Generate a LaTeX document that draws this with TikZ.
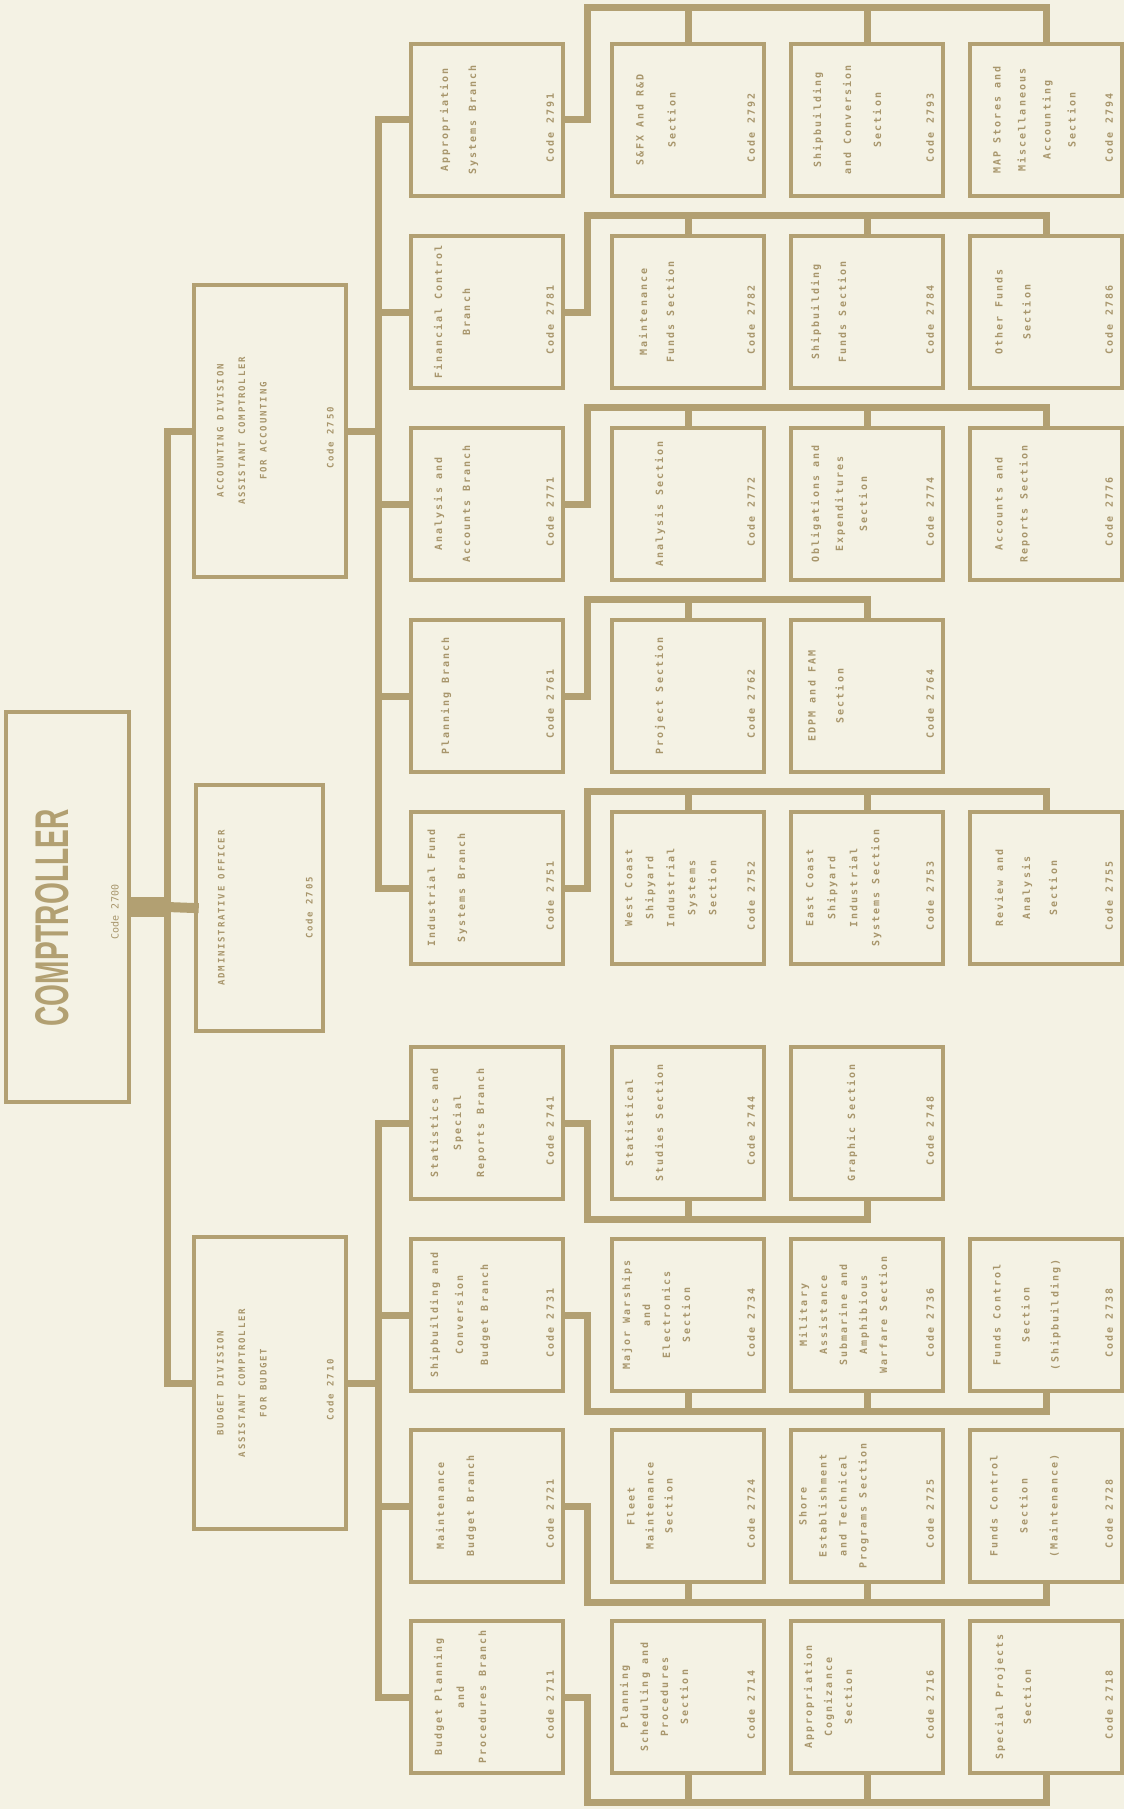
\documentclass[tikz,border=0pt]{standalone}
\usepackage{fontspec}
\usepackage{graphicx}
\usepackage{tikz}
\usetikzlibrary{calc}
\newfontfamily\typefont[LetterSpace=20]{DejaVu Sans Mono}
\newfontfamily\plainfont{DejaVu Sans Mono}
\newfontfamily\headfont{Liberation Sans}

\definecolor{paper}{RGB}{244,242,228}
\definecolor{rule}{RGB}{178,160,114}
\definecolor{ink}{RGB}{168,150,108}

\tikzset{
    unit/.style={draw=rule, line width=4.5pt, fill=paper, inner sep=0pt},
    link/.style={draw=rule, line width=7pt, line cap=rect},
    title/.style={rotate=90, anchor=north, inner sep=0pt, align=center, text=ink},
    code/.style={rotate=90, inner sep=0pt, text=ink},
}

% box: name, x, y, first line offset, line spacing, title, code
\newcommand{\orgunit}[7]{%
    \node[unit, minimum width=152pt, minimum height=152pt] (#1) at (#2,#3) {};
    \node[title, font=\typefont\bfseries\fontsize{10}{#5}\selectfont] (#1t) at ($(#1.west)+(#4-4,0)$) {#6};
    \node[code, font=\typefont\bfseries\fontsize{10}{12}\selectfont] (#1c) at ($(#1.east)+(-15,8)$) {Code #7};
}

\begin{document}
\begin{tikzpicture}[x=1pt,y=-1pt]
        %Paper
            \fill[paper] (0,0) rectangle (1124,1809);
            \useasboundingbox (0,0) rectangle (1124,1809);
        %Comptroller
            \node[unit, minimum width=123pt, minimum height=390pt] (comp) at (67.5,907) {};
            \node[rotate=90, inner sep=0pt, text=rule] (compt) at (52,918) {\resizebox{217pt}{33pt}{\headfont\bfseries COMPTROLLER}};
            \node[code, font=\plainfont\fontsize{10}{12}\selectfont] (compc) at (115,912) {Code 2700};
        %Divisions
            \node[unit, minimum width=152pt, minimum height=292pt] (acct) at (270,431) {};
            \node[title, font=\typefont\bfseries\fontsize{9}{21.5}\selectfont] (acctt) at ($(acct.west)+(25,0)$) {ACCOUNTING DIVISION\\ASSISTANT COMPTROLLER\\FOR ACCOUNTING};
            \node[code, font=\typefont\bfseries\fontsize{9}{10}\selectfont] (acctc) at ($(acct.east)+(-18,7)$) {Code 2750};
            \node[unit, minimum width=127pt, minimum height=246pt] (admin) at (259.5,908) {};
            \node[title, font=\typefont\bfseries\fontsize{9}{21.5}\selectfont] (admint) at ($(admin.west)+(24,0)$) {ADMINISTRATIVE OFFICER};
            \node[code, font=\typefont\bfseries\fontsize{9}{10}\selectfont] (adminc) at ($(admin.east)+(-16,0)$) {Code 2705};
            \node[unit, minimum width=152pt, minimum height=292pt] (budg) at (270,1383) {};
            \node[title, font=\typefont\bfseries\fontsize{9}{21.5}\selectfont] (budgt) at ($(budg.west)+(25,0)$) {BUDGET DIVISION\\ASSISTANT COMPTROLLER\\FOR BUDGET};
            \node[code, font=\typefont\bfseries\fontsize{9}{10}\selectfont] (budgc) at ($(budg.east)+(-18,7)$) {Code 2710};
        %Accounting rows
            \orgunit{b1}{487}{120}{35}{28}{Appropriation\\Systems Branch}{2791}
            \orgunit{s11}{688}{120}{30}{32}{S\&FX And R\&D\\Section}{2792}
            \orgunit{s12}{867}{120}{28}{30}{Shipbuilding\\and Conversion\\Section}{2793}
            \orgunit{s13}{1046}{120}{29}{25}{MAP Stores and\\Miscellaneous\\Accounting\\Section}{2794}
            \orgunit{b2}{487}{312}{29}{28}{Financial Control\\Branch}{2781}
            \orgunit{s21}{688}{312}{33}{27}{Maintenance\\Funds Section}{2782}
            \orgunit{s22}{867}{312}{26}{27}{Shipbuilding\\Funds Section}{2784}
            \orgunit{s23}{1046}{312}{31}{28}{Other Funds\\Section}{2786}
            \orgunit{b3}{487}{504}{29}{28}{Analysis and\\Accounts Branch}{2771}
            \orgunit{s31}{688}{504}{49}{28}{Analysis Section}{2772}
            \orgunit{s32}{867}{504}{26}{24}{Obligations and\\Expenditures\\Section}{2774}
            \orgunit{s33}{1046}{504}{31}{25}{Accounts and\\Reports Section}{2776}
            \orgunit{b4}{487}{696}{36}{28}{Planning Branch}{2761}
            \orgunit{s41}{688}{696}{49}{28}{Project Section}{2762}
            \orgunit{s42}{867}{696}{23}{28}{EDPM and FAM\\Section}{2764}
            \orgunit{b5}{487}{888}{22}{30}{Industrial Fund\\Systems Branch}{2751}
            \orgunit{s51}{688}{888}{19}{21}{West Coast\\Shipyard\\Industrial\\Systems\\Section}{2752}
            \orgunit{s52}{867}{888}{21}{22}{East Coast\\Shipyard\\Industrial\\Systems Section}{2753}
            \orgunit{s53}{1046}{888}{31}{27}{Review and\\Analysis\\Section}{2755}
        %Budget rows
            \orgunit{b6}{487}{1123}{25}{23}{Statistics and\\Special\\Reports Branch}{2741}
            \orgunit{s61}{688}{1123}{19}{30}{Statistical\\Studies Section}{2744}
            \orgunit{s62}{867}{1123}{62}{28}{Graphic Section}{2748}
            \orgunit{b7}{487}{1315}{25}{25}{Shipbuilding and\\Conversion\\Budget Branch}{2731}
            \orgunit{s71}{688}{1315}{16}{20}{Major Warships\\and\\Electronics\\Section}{2734}
            \orgunit{s72}{867}{1315}{14}{20}{Military\\Assistance\\Submarine and\\Amphibious\\Warfare Section}{2736}
            \orgunit{s73}{1046}{1315}{29}{29}{Funds Control\\Section\\(Shipbuilding)}{2738}
            \orgunit{b8}{487}{1506}{31}{30}{Maintenance\\Budget Branch}{2721}
            \orgunit{s81}{688}{1506}{21}{19}{Fleet\\Maintenance\\Section}{2724}
            \orgunit{s82}{867}{1506}{14}{20}{Shore\\Establishment\\and Technical\\Programs Section}{2725}
            \orgunit{s83}{1046}{1506}{26}{30}{Funds Control\\Section\\(Maintenance)}{2728}
            \orgunit{b9}{487}{1697}{29}{22}{Budget Planning\\and\\Procedures Branch}{2711}
            \orgunit{s91}{688}{1697}{14}{20}{Planning\\Scheduling and\\Procedures\\Section}{2714}
            \orgunit{s92}{867}{1697}{19}{20}{Appropriation\\Cognizance\\Section}{2716}
            \orgunit{s93}{1046}{1697}{31}{28}{Special Projects\\Section}{2718}
        %Trunk
            \coordinate (trunk) at ($(comp.east)+(36,0)$);
            \draw[link] (acct.west) -| (trunk) |- (budg.west);
            \draw[link, line width=20pt, line cap=butt] (comp.east) -- (trunk);
            \draw[link, line width=10pt] (trunk) -- (admin.west);
        %Branch lines
            \coordinate (acctj) at ($(acct.east)+(30,0)$);
            \draw[link] (acct.east) -- (acctj);
            \draw[link] (b1.west -| acctj) -- (b5.west -| acctj);
            \foreach \i in {1,...,5}
            {
                \draw[link] (b\i.west) -- (b\i.west -| acctj);
            }
            \coordinate (budgj) at ($(budg.east)+(30,0)$);
            \draw[link] (budg.east) -- (budgj);
            \draw[link] (b6.west -| budgj) -- (b9.west -| budgj);
            \foreach \i in {6,...,9}
            {
                \draw[link] (b\i.west) -- (b\i.west -| budgj);
            }
        %Section buses above
            \foreach \r/\m/\d in {1/3/34,2/3/18,3/3/18,4/2/18,5/3/18}
            {
                \coordinate (bus\r) at ($(b\r.east |- s\r1.north)+(22,-\d)$);
                \draw[link] (b\r.east) -| (bus\r) -| (s\r\m.north);
                \foreach \k in {1,...,\m}
                    \draw[link] (s\r\k.north) -- (s\r\k.north |- bus\r);
            }
        %Section buses below
            \foreach \r/\m/\d in {6/2/18,7/3/18,8/3/18,9/3/27}
            {
                \coordinate (bus\r) at ($(b\r.east |- s\r1.south)+(22,\d)$);
                \draw[link] (b\r.east) -| (bus\r) -| (s\r\m.south);
                \foreach \k in {1,...,\m}
                    \draw[link] (s\r\k.south) -- (s\r\k.south |- bus\r);
            }
    \end{tikzpicture}
\end{document}
